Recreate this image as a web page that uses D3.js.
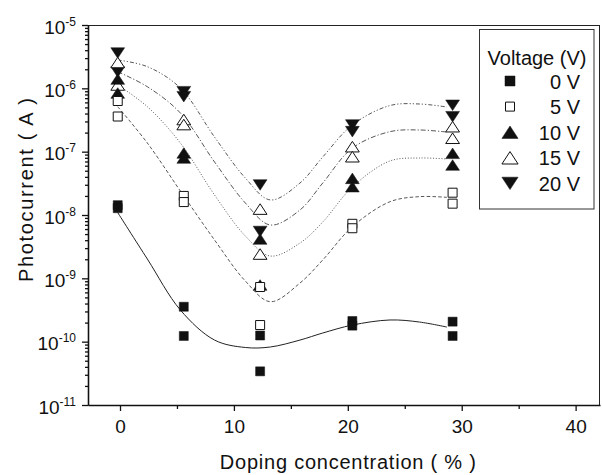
<!DOCTYPE html>
<html lang="en">
<head>
<meta charset="UTF-8">
<title>Photocurrent vs doping concentration</title>
<script src="https://d3js.org/d3.v7.min.js"></script>
<style>
  body { margin: 0; background: #fff; }
  svg { font-family: Arial, "Liberation Sans", sans-serif; }
  svg text { fill: #111; }
  .axis path, .axis line { stroke: #111; stroke-width: 1.3; }
</style>
</head>
<body>
<div id="chart"></div>
<script>
// doping concentration (%) of the five sample groups
const doping = [-0.2, 5.6, 12.3, 20.4, 29.2];

// two measured points per group for each bias voltage (A)
const v0a  = [1.43e-8, 3.56e-10, 1.25e-10, 2.12e-10, 2.07e-10];
const v0b  = [1.28e-8, 1.23e-10, 3.4e-11, 1.79e-10, 1.23e-10];
const v5a  = [6.31e-7, 2.00e-8, 7.29e-10, 7.26e-9, 2.25e-8];
const v5b  = [3.59e-7, 1.60e-8, 1.83e-10, 6.18e-9, 1.51e-8];
const v10a = [1.40e-6, 9.53e-8, 4.18e-9, 3.79e-8, 9.42e-8];
const v10b = [8.44e-7, 7.94e-8, 7.85e-10, 2.80e-8, 6.15e-8];
const v15a = [2.56e-6, 3.22e-7, 1.24e-8, 1.20e-7, 2.48e-7];
const v15b = [1.13e-6, 2.68e-7, 2.42e-9, 8.32e-8, 1.63e-7];
const v20a = [3.61e-6, 8.85e-7, 2.98e-8, 2.64e-7, 5.40e-7];
const v20b = [1.81e-6, 7.38e-7, 5.49e-9, 2.07e-7, 3.56e-7];

// fitted guide curves
const fitX   = [-0.2, 2.4, 5.3, 8.3, 11.0, 13.2, 15.8, 17.8, 20.4, 23.7, 26.3, 28.7];
const fit0V  = [1.09e-8, 2.02e-9, 3.16e-10, 1.06e-10, 8.09e-11, 8.24e-11, 1.06e-10, 1.37e-10, 1.83e-10, 2.20e-10, 2.04e-10, 1.70e-10];
const fit5V  = [5.13e-7, 1.37e-7, 2.39e-8, 4.03e-9, 9.08e-10, 4.28e-10, 8.43e-10, 1.95e-9, 6.53e-9, 1.62e-8, 1.95e-8, 1.90e-8];
const fit10V = [1.13e-6, 5.13e-7, 1.37e-7, 2.07e-8, 4.66e-9, 2.25e-9, 3.61e-9, 7.75e-9, 2.77e-8, 7.13e-8, 7.94e-8, 7.66e-8];
const fit15V = [1.83e-6, 1.06e-6, 4.08e-7, 6.87e-8, 1.55e-8, 6.95e-9, 1.20e-8, 3.20e-8, 1.14e-7, 2.07e-7, 2.20e-7, 2.04e-7];
const fit20V = [2.80e-6, 2.20e-6, 1.01e-6, 1.70e-7, 3.84e-8, 1.73e-8, 3.20e-8, 8.24e-8, 2.64e-7, 5.35e-7, 5.66e-7, 5.07e-7];

const seriesNames = ["0 V", "5 V", "10 V", "15 V", "20 V"];
const xTicks = [0, 10, 20, 30, 40];
const xMinorTicks = [5, 15, 25, 35];
const yExponents = [-11, -10, -9, -8, -7, -6, -5];

const series = [
    { name: seriesNames[0], a: v0a,  b: v0b,  fit: fit0V },
    { name: seriesNames[1], a: v5a,  b: v5b,  fit: fit5V },
    { name: seriesNames[2], a: v10a, b: v10b, fit: fit10V },
    { name: seriesNames[3], a: v15a, b: v15b, fit: fit15V },
    { name: seriesNames[4], a: v20a, b: v20b, fit: fit20V }
];

// styles per series
const shapes = ["square", "square", "up", "up", "down"];
const filled = [true, false, true, false, true];
const dashes = [null, "3.5,2.2", "1,1.8", "5,2,1.2,2", "4,2,1.2,2,1.2,2"];

const margin = { top: 25, right: 2, bottom: 70, left: 88 };
const width = 602 - margin.left - margin.right;
const height = 475 - margin.top - margin.bottom;

const svg = d3.select("#chart").append("svg")
    .attr("width", 602)
    .attr("height", 475);
const g = svg.append("g")
    .attr("transform", `translate(${margin.left},${margin.top})`);

const x = d3.scaleLinear().domain([-2.81, 42.14]).range([0, width]);
const y = d3.scaleLog().domain([1e-11, 1e-5]).range([height, 0]);

// marker outline centred on its box
function marker(shape, s) {
    if (shape === "square") {
        const h = s / 2;
        return `M${-h},${-h}H${h}V${h}H${-h}Z`;
    }
    const w = s * 0.6, h = s * 0.46;
    if (shape === "up") return `M0,${-h}L${w},${h}L${-w},${h}Z`;
    return `M0,${h}L${w},${-h}L${-w},${-h}Z`;
}

// frame
g.append("line").attr("x1", 0).attr("x2", width).attr("y1", 0.5).attr("y2", 0.5)
    .attr("stroke", "#222").attr("stroke-width", 1);
g.append("line").attr("x1", width - 0.5).attr("x2", width - 0.5).attr("y1", 0).attr("y2", height)
    .attr("stroke", "#222").attr("stroke-width", 1);

// x axis
g.append("g").attr("class", "axis")
    .attr("transform", `translate(0,${height})`)
    .call(d3.axisBottom(x).tickValues(xMinorTicks).tickSize(4).tickFormat("").tickSizeOuter(0));
const xAxis = g.append("g").attr("class", "axis")
    .attr("transform", `translate(0,${height})`)
    .call(d3.axisBottom(x).tickValues(xTicks).tickSize(6).tickSizeOuter(0));
xAxis.selectAll("text")
    .attr("y", 28).attr("dy", 0)
    .style("font-size", "19px");
xAxis.select(".domain").remove();

// y axis
const yMinor = y.ticks().filter(v => !yExponents.some(e => Math.abs(v - Math.pow(10, e)) < v * 1e-6));
g.append("g").attr("class", "axis")
    .call(d3.axisLeft(y).tickValues(yMinor).tickSize(3).tickFormat("").tickSizeOuter(0));
const yAxis = g.append("g").attr("class", "axis")
    .call(d3.axisLeft(y).tickValues(yExponents.map(e => Math.pow(10, e))).tickSize(6).tickSizeOuter(0).tickFormat(""));
yAxis.selectAll(".tick").each(function (d, i) {
    const t = d3.select(this).append("text")
        .attr("x", -12).attr("y", 8)
        .attr("text-anchor", "end")
        .style("font-size", "19px");
    t.append("tspan").text("10");
    t.append("tspan").attr("dy", -8).style("font-size", "12px").text(yExponents[i]);
});

// axis titles
g.append("text")
    .attr("x", x(20)).attr("y", height + 64)
    .attr("text-anchor", "middle")
    .attr("textLength", 256).attr("lengthAdjust", "spacing")
    .style("font-size", "20px")
    .text("Doping concentration ( % )");
g.append("text")
    .attr("transform", `translate(${33 - margin.left},${190 - margin.top}) rotate(-90)`)
    .attr("text-anchor", "middle")
    .attr("textLength", 184).attr("lengthAdjust", "spacing")
    .style("font-size", "20px")
    .text("Photocurrent ( A )");

// fitted curves
const line = d3.line()
    .x(d => x(d[0]))
    .y(d => y(d[1]))
    .curve(d3.curveCatmullRom.alpha(0.5));
series.forEach((s, i) => {
    g.append("path")
        .datum(fitX.map((v, j) => [v, s.fit[j]]))
        .attr("d", line)
        .attr("fill", "none")
        .attr("stroke", i === 0 ? "#222" : "#444")
        .attr("stroke-width", i === 0 ? 1 : 0.9)
        .attr("stroke-dasharray", dashes[i]);
});

// measured points, drawn from 20 V down to 0 V
d3.range(series.length - 1, -1, -1).forEach(i => {
    const s = series[i];
    const pts = doping.flatMap((d, j) => [[d, s.a[j]], [d, s.b[j]]]);
    g.selectAll(null)
        .data(pts)
        .enter().append("path")
        .attr("transform", d => `translate(${x(d[0])},${y(d[1])})`)
        .attr("d", marker(shapes[i], shapes[i] === "square" ? 9 : 11.5))
        .attr("fill", filled[i] ? "#111" : "#fff")
        .attr("stroke", "#111")
        .attr("stroke-width", filled[i] ? 0.5 : 1);
});

// legend
const legend = svg.append("g");
legend.append("rect")
    .attr("x", 479.5).attr("y", 29.5)
    .attr("width", 114.5).attr("height", 179.5)
    .attr("fill", "#fff").attr("stroke", "#333").attr("stroke-width", 1);
legend.append("text")
    .attr("x", 537).attr("y", 65)
    .attr("text-anchor", "middle")
    .style("font-size", "20px")
    .text("Voltage (V)");
series.forEach((s, i) => {
    const cy = 81 + i * 25.6;
    legend.append("path")
        .attr("transform", `translate(510,${cy})`)
        .attr("d", marker(shapes[i], shapes[i] === "square" ? (filled[i] ? 10 : 9) : 13.5))
        .attr("fill", filled[i] ? "#111" : "#fff")
        .attr("stroke", "#111")
        .attr("stroke-width", filled[i] ? 0.5 : 1);
    legend.append("text")
        .attr("x", 580).attr("y", cy + 7.5)
        .attr("text-anchor", "end")
        .style("font-size", "20px")
        .text(s.name);
});
</script>
</body>
</html>
